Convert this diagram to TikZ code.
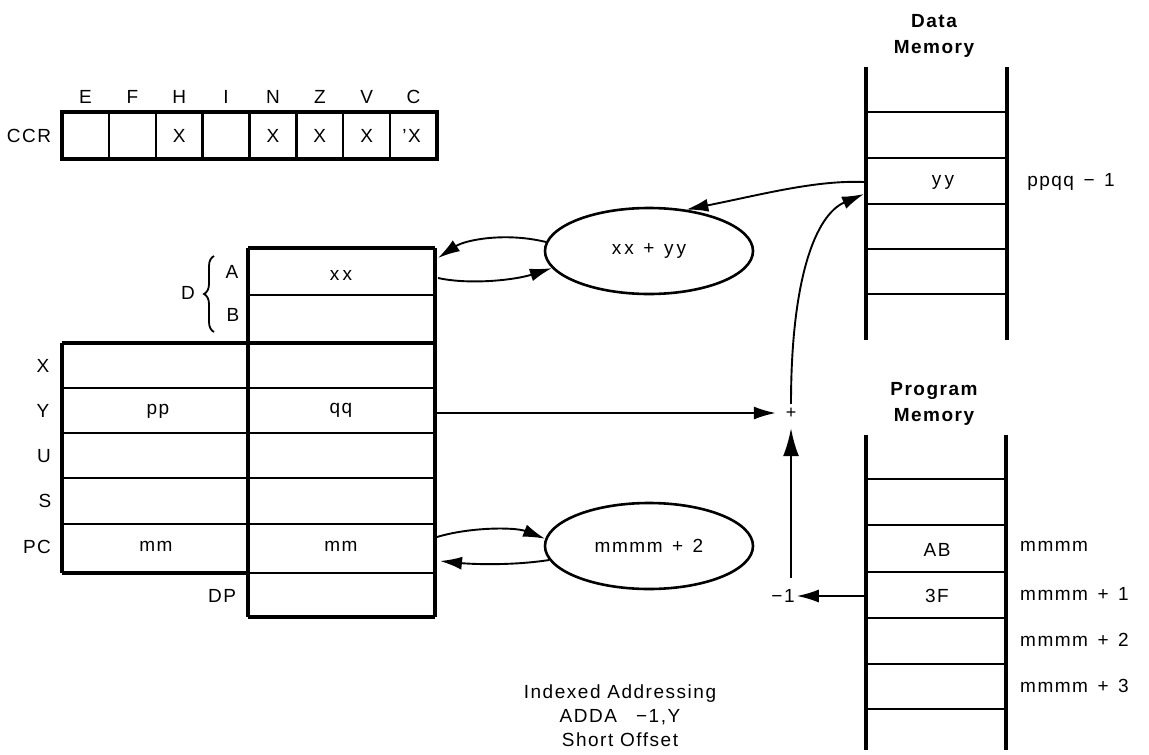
\documentclass[tikz,border=0pt]{standalone}
\usepackage{fontspec}
\setmainfont[LetterSpace=8]{Liberation Sans}
\usetikzlibrary{shapes.geometric,arrows.meta,decorations.pathreplacing}
\begin{document}
\begin{tikzpicture}[x=1pt,y=-1pt,
  lbl/.style={font=\fontsize{19}{24}\selectfont, inner sep=0pt},
  title/.style={font=\fontsize{19}{26}\selectfont\bfseries, inner sep=0pt, align=center},
  thk/.style={line width=3.8pt},
  thn/.style={line width=2.3pt},
  arr/.style={line width=1.9pt, -{Latex[length=22pt,width=13pt]}},
  bigarr/.style={line width=2.2pt, -{Latex[length=28pt,width=16pt]}},
  oval/.style={ellipse, draw, line width=2.6pt, minimum width=208pt, minimum height=86pt, inner sep=0pt, font=\fontsize{19}{24}\selectfont}]
\useasboundingbox (0,0) rectangle (1149,755);

% ---------- CCR ----------
\draw[thk] (62,112) rectangle (437,159);
\foreach \i in {1,...,7} \draw[thn] ({62+\i*46.875},112) -- ({62+\i*46.875},159);
\foreach \l [count=\i] in {E,F,H,I,N,Z,V,C}
  \node[lbl] (flag\l) at ({62+(\i-0.5)*46.875},97) {\l};
\node[lbl] (ccr) at (29,136) {CCR};
\foreach \i in {3,5,6,7}
  \node[lbl] (x\i) at ({62+(\i-0.5)*46.875},136) {X};
\node[lbl] (x8) at ({62+7.5*46.875-2},136) {'X};

% ---------- registers ----------
\draw[thk] (248,248) -- (435,248);
\draw[thn] (250,295) -- (435,295);
\draw[thk] (62,343) -- (435,343);
\foreach \y in {388,433,478,524} \draw[thn] (62,\y) -- (435,\y);
\draw[thk] (62,573) -- (248,573);
\draw[thn] (248,573) -- (435,573);
\draw[thk] (248,617) -- (435,617);
\draw[thk] (62,343) -- (62,573);
\draw[thk] (248,248) -- (248,617);
\draw[thk] (435,248) -- (435,617);

\node[lbl] (regA) at (341,275) {x\,x};
\node[lbl] (ypp) at (158,411) {pp};
\node[lbl] (yqq) at (341,410) {qq};
\node[lbl] (pcmm1) at (156,546) {mm};
\node[lbl] (pcmm2) at (341,546) {mm};

\node[lbl] (lD) at (188,293) {D};
\draw[line width=1.8pt, decorate, decoration={brace, amplitude=10pt, aspect=0.5}] (214,332) -- (214,256);
\node[lbl] (lA) at (232,272) {A};
\node[lbl] (lB) at (233,315) {B};
\node[lbl] (lX) at (43,366) {X};
\node[lbl] (lY) at (43,411) {Y};
\node[lbl] (lU) at (44,456) {U};
\node[lbl] (lS) at (45,501) {S};
\node[lbl] (lPC) at (37,547) {PC};
\node[lbl] (lDP) at (222,596) {DP};

\coordinate (rA1) at (438,258);
\coordinate (rA2) at (438,278);
\coordinate (rY) at (437,413);
\coordinate (rP1) at (437,537);
\coordinate (rP2) at (440,561);

% ---------- ovals ----------
\node[oval] (sum) at (649,251) {x\,x\enspace+\enspace y\,y};
\node[oval] (inc) at (649,546) {mmmm\enspace+\enspace2};

\draw[arr] (sum.175) .. controls (505,232) and (465,240) .. (rA1);
\draw[arr] (rA2) .. controls (470,285) and (515,280) .. (sum.190);
\draw[arr] (rP1) .. controls (470,527) and (515,527) .. (inc.176);
\draw[arr] (inc.188) .. controls (510,566) and (470,564) .. (rP2);

% ---------- data memory ----------
\node[title] (dmt) at (934,36) {Data\\Memory};
\draw[thk] (866,67) -- (866,340);
\draw[thk] (1007,67) -- (1007,340);
\foreach \y in {112,158,204,249,294} \draw[thn] (868,\y) -- (1005,\y);
\node[lbl] (yy) at (943,182) {y\,y};
\node[lbl] (ppqq) at (1071,182) {ppqq\enspace−\enspace1};
\coordinate (dmA) at (864,182);
\coordinate (dmB) at (864,194);

% ---------- adder ----------
\node[font=\fontsize{18}{20}\selectfont, inner sep=0pt, minimum size=30pt] (plus) at (791,413) {+};
\node[lbl] (m1) at (783,596) {−1};
\draw[arr] (rY) -- (plus.west);
\draw[bigarr] (791,578) -- (plus.south);
\draw[arr] (dmA) .. controls (815,180) and (760,195) .. (sum.48);
\draw[arr] ([yshift=-6pt]plus.north) .. controls (791,280) and (815,215) .. (dmB);

% ---------- program memory ----------
\node[title] (pmt) at (934,404) {Program\\Memory};
\draw[thk] (866,435) -- (866,750);
\draw[thk] (1006,435) -- (1006,750);
\foreach \y in {479,525,572,618,664,709} \draw[thn] (868,\y) -- (1004,\y);
\node[lbl] (ab) at (937,550) {AB};
\node[lbl] (f3) at (937,596) {3F};
\node[lbl, anchor=west] (a0) at (1020,546) {mmmm};
\node[lbl, anchor=west] (a1) at (1020,594) {mmmm\enspace+\enspace1};
\node[lbl, anchor=west] (a2) at (1020,640) {mmmm\enspace+\enspace2};
\node[lbl, anchor=west] (a3) at (1020,686) {mmmm\enspace+\enspace3};
\coordinate (pm3F) at (864,596);
\draw[arr] (pm3F) -- ([xshift=2pt]m1.east);

% ---------- caption ----------
\node[lbl, align=center] (cap) at (620,716) {Indexed Addressing\\ADDA\quad −1,Y\\Short Offset};
\end{tikzpicture}
\end{document}
